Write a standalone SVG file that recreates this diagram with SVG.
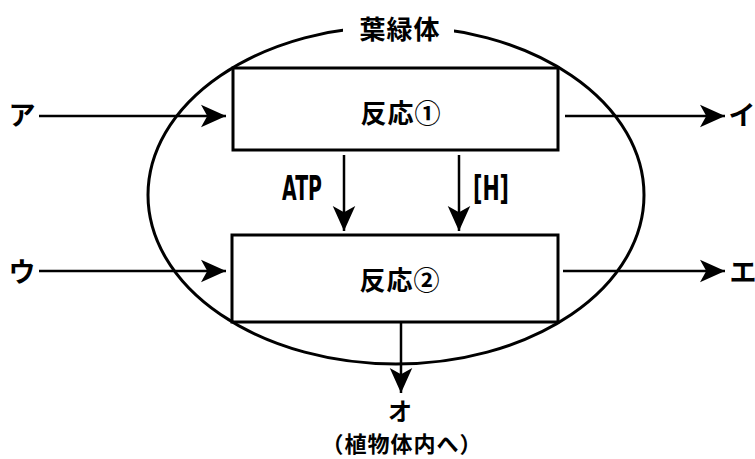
<svg xmlns="http://www.w3.org/2000/svg" width="755" height="459" viewBox="0 0 755 459">
<style>
.ln{stroke:#000;stroke-width:2.5;fill:none}
.box{stroke:#000;stroke-width:3;fill:none}
.t{font-family:"Noto Sans CJK JP","Noto Sans",sans-serif;font-weight:bold;fill:#000;dominant-baseline:central}
.lat{font-family:"DejaVu Sans","Noto Sans",sans-serif;font-weight:bold;fill:#000;dominant-baseline:central}
</style>
<defs>
<marker id="ahb" viewBox="0 0 10 10" refX="10" refY="5" markerWidth="10" markerHeight="10" orient="auto" markerUnits="strokeWidth">
<path d="M0,0.5 L10,5 L0,9.5 L2.5,5 Z" fill="#000"/>
</marker>
</defs>
<rect width="755" height="459" fill="#fff"/>
<g id="chloroplast">
<ellipse cx="396" cy="195" rx="248" ry="169" class="box"/>
<rect x="343" y="10" width="111" height="32" fill="#fff"/>
<text class="t" x="400" y="27" font-size="26" text-anchor="middle" letter-spacing="1">葉緑体</text>
</g>
<g id="reaction1">
<rect x="233" y="68" width="325" height="82" class="box"/>
<text class="t" x="401" y="111" font-size="26" text-anchor="middle" letter-spacing="1">反応①</text>
</g>
<g id="reaction2">
<rect x="232" y="235" width="326" height="87" class="box"/>
<text class="t" x="400" y="278" font-size="26" text-anchor="middle" letter-spacing="1">反応②</text>
</g>
<g id="labels">
<text class="t" x="22" y="113" font-size="27" text-anchor="middle">ア</text>
<text class="t" x="22" y="270" font-size="27" text-anchor="middle">ウ</text>
<text class="t" x="742" y="113" font-size="27" text-anchor="middle">イ</text>
<text class="t" x="743" y="270" font-size="27" text-anchor="middle">エ</text>
<text class="t" x="400" y="409" font-size="24" text-anchor="middle">オ</text>
<text class="t" x="402" y="442" font-size="22" text-anchor="middle" letter-spacing="1">（植物体内へ）</text>
<text class="lat" x="282" y="188" font-size="33" textLength="40" lengthAdjust="spacingAndGlyphs">ATP</text>
<text class="lat" x="473" y="188" font-size="33" textLength="36" lengthAdjust="spacingAndGlyphs">[H]</text>
</g>
<g id="connectors" class="ln">
<line x1="39" y1="116" x2="226" y2="116" marker-end="url(#ahb)"/>
<line x1="39" y1="271" x2="226" y2="271" marker-end="url(#ahb)"/>
<line x1="565" y1="116" x2="725" y2="116" marker-end="url(#ahb)"/>
<line x1="563" y1="271" x2="725" y2="271" marker-end="url(#ahb)"/>
<line x1="344" y1="155" x2="344" y2="231" marker-end="url(#ahb)"/>
<line x1="459" y1="155" x2="459" y2="231" marker-end="url(#ahb)"/>
<line x1="401" y1="322" x2="401" y2="393" marker-end="url(#ahb)"/>
</g>
</svg>
